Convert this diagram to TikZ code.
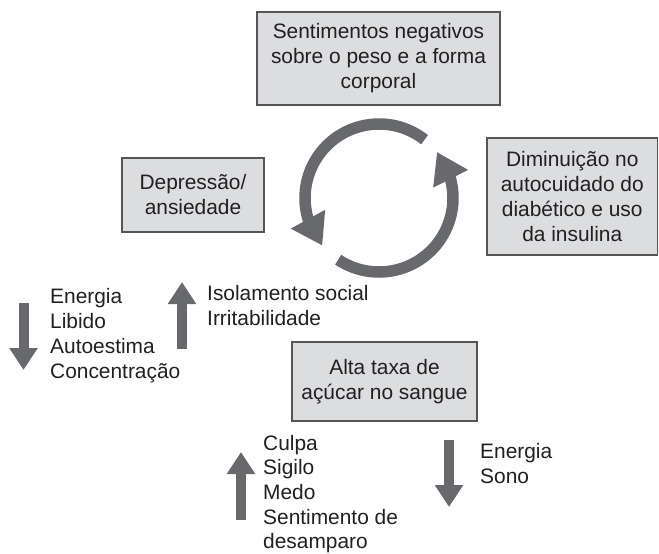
\documentclass[tikz,border=0pt]{standalone}
\usepackage{fontspec}
\setmainfont{Liberation Sans}
\usetikzlibrary{arrows.meta,bending}
\definecolor{arrowgray}{HTML}{68696C}
\definecolor{boxfill}{HTML}{DCDDDF}
\definecolor{boxline}{HTML}{555555}
\definecolor{txt}{HTML}{231F20}
\tikzset{
  txtfont/.style={font=\fontsize{20.9}{25}\selectfont, text=txt},
  infobox/.style={txtfont, draw=boxline, line width=1.3pt, fill=boxfill, align=center, inner sep=0pt},
  listtext/.style={txtfont, align=left, anchor=north west, inner sep=0pt},
  straightarrow/.style={draw=arrowgray, line width=10pt, -{Triangle[width=27pt,length=22pt]}},
  cyclearrow/.style={draw=arrowgray, line width=11.5pt, -{Triangle[width=37pt,length=30pt]}}
}
\begin{document}
\begin{tikzpicture}[x=1pt,y=-1pt]
\useasboundingbox (0,0) rectangle (659,554);

% boxes
\node[infobox, minimum width=243pt, minimum height=93pt] (top) at (378.5,58.5)
  {Sentimentos negativos\\sobre o peso e a forma\\corporal};
\node[infobox, minimum width=142pt, minimum height=74pt] (left) at (193,195)
  {Depressão/\\ansiedade};
\node[infobox, minimum width=170.5pt, minimum height=117pt] (right) at (572.25,196.5)
  {Diminuição no\\autocuidado do\\diabético e uso\\da insulina};
\node[infobox, minimum width=185pt, minimum height=79pt] (bottom) at (384.5,381.5)
  {Alta taxa de\\açúcar no sangue};

% cycle arrows
\coordinate (c) at (379,198);
\draw[cyclearrow] (c) ++(-52:74) arc[start angle=-52, end angle=-220, radius=74];
\draw[cyclearrow] (c) ++(-236.5:74) arc[start angle=-236.5, end angle=-398.4, radius=74];

% lists
\node[listtext] (l1) at (50,288) {Energia\\Libido\\Autoestima\\Concentração};
\node[listtext] (l2) at (207,285) {Isolamento social\\Irritabilidade};
\node[listtext, font=\fontsize{20.9}{24.6}\selectfont] (l3) at (263,435) {Culpa\\Sigilo\\Medo\\Sentimento de\\desamparo};
\node[listtext] (l4) at (480,443) {Energia\\Sono};

% straight arrows
\coordinate (a1s) at (23.5,303); \coordinate (a1e) at (23.5,370);
\coordinate (a2s) at (182,349); \coordinate (a2e) at (182,282);
\coordinate (a3s) at (241,520); \coordinate (a3e) at (241,452);
\coordinate (a4s) at (449,440); \coordinate (a4e) at (449,507);
\draw[straightarrow] (a1s) -- (a1e);
\draw[straightarrow] (a2s) -- (a2e);
\draw[straightarrow] (a3s) -- (a3e);
\draw[straightarrow] (a4s) -- (a4e);
\end{tikzpicture}
\end{document}
